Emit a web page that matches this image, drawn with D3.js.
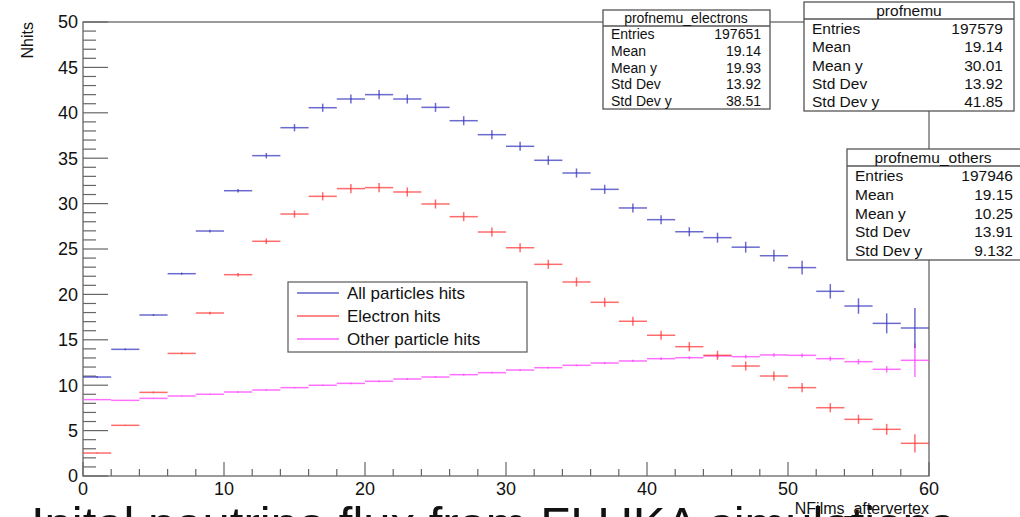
<!DOCTYPE html>
<html>
<head>
<meta charset="utf-8">
<script src="https://cdn.jsdelivr.net/npm/d3@7"></script>
<style>
  body { margin: 0; background: #fff; }
  svg { font-family: "Liberation Sans", Arial, sans-serif; }
</style>
</head>
<body>
<div id="container"></div>
<script>

// bin centres (bin width 2)
const binCenters = [1, 3, 5, 7, 9, 11, 13, 15, 17, 19, 21, 23, 25, 27, 29,
                    31, 33, 35, 37, 39, 41, 43, 45, 47, 49, 51, 53, 55, 57, 59];

const allHits = [10.9, 13.95, 17.73, 22.28, 26.98, 31.42, 35.28, 38.36, 40.56, 41.52,
                 42.0, 41.52, 40.6, 39.13, 37.59, 36.31, 34.77, 33.37, 31.57, 29.52,
                 28.23, 26.9, 26.25, 25.2, 24.26, 22.95, 20.34, 18.72, 16.81, 16.3];
const allErr = [0.1, 0.1, 0.1, 0.12, 0.15, 0.2, 0.3, 0.4, 0.45, 0.5,
                0.5, 0.5, 0.5, 0.5, 0.5, 0.5, 0.5, 0.5, 0.5, 0.5,
                0.5, 0.5, 0.55, 0.6, 0.65, 0.75, 0.8, 0.85, 1.1, 2.2];

const electronHits = [2.53, 5.58, 9.21, 13.5, 17.95, 22.17, 25.85, 28.85, 30.8, 31.65,
                      31.76, 31.28, 29.96, 28.56, 26.87, 25.14, 23.31, 21.37, 19.13, 17.04,
                      15.5, 14.24, 13.29, 12.11, 11.01, 9.73, 7.52, 6.24, 5.14, 3.6];
const electronErr = [0.05, 0.05, 0.1, 0.1, 0.15, 0.2, 0.3, 0.4, 0.45, 0.5,
                     0.5, 0.5, 0.5, 0.5, 0.5, 0.5, 0.5, 0.5, 0.5, 0.5,
                     0.5, 0.5, 0.5, 0.5, 0.5, 0.5, 0.5, 0.5, 0.6, 1.0];

const otherHits = [8.41, 8.33, 8.55, 8.81, 9.0, 9.25, 9.47, 9.73, 9.99, 10.2,
                   10.43, 10.68, 10.9, 11.16, 11.38, 11.67, 11.93, 12.19, 12.44, 12.67,
                   12.92, 13.03, 13.22, 13.14, 13.33, 13.29, 12.92, 12.59, 11.75, 12.74];
const otherErr = [0.03, 0.03, 0.05, 0.05, 0.05, 0.07, 0.08, 0.08, 0.08, 0.1,
                  0.1, 0.1, 0.1, 0.1, 0.1, 0.1, 0.1, 0.1, 0.12, 0.12,
                  0.15, 0.15, 0.2, 0.2, 0.2, 0.2, 0.25, 0.3, 0.35, 1.85];

const legendLabels = ["All particles hits", "Electron hits", "Other particle hits"];
const seriesColors = ["#3a3abf", "#ff3b3b", "#ff40ff"];

const statNames = ["Entries", "Mean", "Mean y", "Std Dev", "Std Dev y"];
const statsElectrons = ["197651", "19.14", "19.93", "13.92", "38.51"];
const statsAll = ["197579", "19.14", "30.01", "13.92", "41.85"];
const statsOthers = ["197946", "19.15", "10.25", "13.91", "9.132"];

const xTicks = [0, 10, 20, 30, 40, 50, 60];
const yTicks = [0, 5, 10, 15, 20, 25, 30, 35, 40, 45, 50];

function main() {
    const width = 1020, height = 517;
    const plot = { left: 83, right: 929, top: 22, bottom: 476 };

    const svg = d3.select("#container").append("svg")
        .attr("width", width)
        .attr("height", height);

    const xScale = d3.scaleLinear().domain([0, 60]).range([plot.left, plot.right]);
    const yScale = d3.scaleLinear().domain([0, 50]).range([plot.bottom, plot.top]);

    // frame
    svg.append("rect")
        .attr("x", plot.left).attr("y", plot.top)
        .attr("width", plot.right - plot.left)
        .attr("height", plot.bottom - plot.top)
        .attr("fill", "none").attr("stroke", "#666").attr("stroke-width", 1.3);

    // y axis ticks (pointing inward)
    const yMinor = d3.range(0, 51, 1);
    svg.append("g").selectAll("line").data(yMinor).join("line")
        .attr("x1", plot.left)
        .attr("x2", d => plot.left + (d % 5 === 0 ? 25 : 13))
        .attr("y1", d => yScale(d)).attr("y2", d => yScale(d))
        .attr("stroke", "#666").attr("stroke-width", 1.2);

    svg.append("g").selectAll("text").data(yTicks).join("text")
        .attr("x", plot.left - 5)
        .attr("y", d => yScale(d))
        .attr("dy", "0.36em")
        .attr("text-anchor", "end")
        .attr("font-size", 18)
        .attr("fill", "#111")
        .text(d => d);

    // x axis ticks
    const xMinor = d3.range(0, 61, 2);
    svg.append("g").selectAll("line").data(xMinor).join("line")
        .attr("x1", d => xScale(d)).attr("x2", d => xScale(d))
        .attr("y1", plot.bottom)
        .attr("y2", d => plot.bottom - (d % 10 === 0 ? 14 : 7))
        .attr("stroke", "#666").attr("stroke-width", 1.2);

    svg.append("g").selectAll("text").data(xTicks).join("text")
        .attr("x", d => xScale(d))
        .attr("y", 495)
        .attr("text-anchor", "middle")
        .attr("font-size", 18)
        .attr("fill", "#111")
        .text(d => d);

    // axis titles
    svg.append("text")
        .attr("transform", `translate(33,${plot.top}) rotate(-90)`)
        .attr("text-anchor", "end")
        .attr("font-size", 16)
        .attr("fill", "#111")
        .text("Nhits");

    // main title (cut off by the window, as in the original)
    svg.append("text")
        .attr("x", 31).attr("y", 541)
        .attr("font-size", 49)
        .attr("fill", "#111")
        .text("Inital neutrino flux from FLUKA simulations");

    svg.append("text")
        .attr("x", plot.right).attr("y", 514)
        .attr("text-anchor", "end")
        .attr("font-size", 16)
        .attr("fill", "#111")
        .text("NFilms_aftervertex");

    // profiles
    const series = [
        { values: allHits, errs: allErr, color: seriesColors[0] },
        { values: electronHits, errs: electronErr, color: seriesColors[1] },
        { values: otherHits, errs: otherErr, color: seriesColors[2] }
    ];
    const halfBin = 1;

    [series[2], series[1], series[0]].forEach(s => {
        const g = svg.append("g")
            .attr("stroke", s.color)
            .attr("stroke-width", 1.5)
            .attr("stroke-opacity", 0.75);
        g.selectAll("line.h").data(binCenters).join("line")
            .attr("class", "h")
            .attr("x1", d => xScale(d - halfBin))
            .attr("x2", d => xScale(d + halfBin))
            .attr("y1", (d, i) => yScale(s.values[i]))
            .attr("y2", (d, i) => yScale(s.values[i]));
        g.selectAll("line.v").data(binCenters).join("line")
            .attr("class", "v")
            .attr("x1", d => xScale(d)).attr("x2", d => xScale(d))
            .attr("y1", (d, i) => yScale(s.values[i] - s.errs[i]))
            .attr("y2", (d, i) => yScale(s.values[i] + s.errs[i]));
    });

    // legend
    const legend = svg.append("g");
    legend.append("rect")
        .attr("x", 288).attr("y", 282).attr("width", 239).attr("height", 70)
        .attr("fill", "#fff").attr("stroke", "#666").attr("stroke-width", 1.3);
    legendLabels.forEach((label, i) => {
        const yy = 293 + i * 23;
        legend.append("line")
            .attr("x1", 297).attr("x2", 339)
            .attr("y1", yy).attr("y2", yy)
            .attr("stroke", seriesColors[i]).attr("stroke-width", 1.3)
            .attr("stroke-opacity", 0.8);
        legend.append("text")
            .attr("x", 347).attr("y", yy)
            .attr("dy", "0.36em")
            .attr("font-size", 17)
            .attr("fill", "#111")
            .text(label);
    });

    // stats boxes
    function statsBox(title, values, box) {
        const g = svg.append("g");
        g.append("rect")
            .attr("x", box.x).attr("y", box.y).attr("width", box.w).attr("height", box.h)
            .attr("fill", "#fff").attr("stroke", "#555").attr("stroke-width", 1.3);
        g.append("line")
            .attr("x1", box.x).attr("x2", box.x + box.w)
            .attr("y1", box.y + box.head).attr("y2", box.y + box.head)
            .attr("stroke", "#555").attr("stroke-width", 1.3);
        g.append("text")
            .attr("x", box.x + box.titleX).attr("y", box.y + box.head / 2)
            .attr("dy", "0.36em")
            .attr("text-anchor", "middle")
            .attr("font-size", box.fs)
            .attr("fill", "#111")
            .text(title);
        const rowH = (box.h - box.head) / statNames.length;
        statNames.forEach((name, i) => {
            const yy = box.y + box.head + rowH * (i + 0.5);
            g.append("text")
                .attr("x", box.x + 8).attr("y", yy)
                .attr("dy", "0.36em")
                .attr("font-size", box.fs)
                .attr("fill", "#111")
                .text(name);
            g.append("text")
                .attr("x", box.valueX).attr("y", yy)
                .attr("dy", "0.36em")
                .attr("text-anchor", "end")
                .attr("font-size", box.fs)
                .attr("fill", "#111")
                .text(values[i]);
        });
    }

    statsBox("profnemu_electrons", statsElectrons,
        { x: 603, y: 10, w: 167, h: 99, head: 16, fs: 14, titleX: 83, valueX: 761 });
    statsBox("profnemu", statsAll,
        { x: 804, y: 2, w: 210, h: 109, head: 17, fs: 15.5, titleX: 105, valueX: 1003 });
    statsBox("profnemu_others", statsOthers,
        { x: 847, y: 149, w: 180, h: 111, head: 17, fs: 15.5, titleX: 86, valueX: 1013 });
}

main();
</script>
</body>
</html>
